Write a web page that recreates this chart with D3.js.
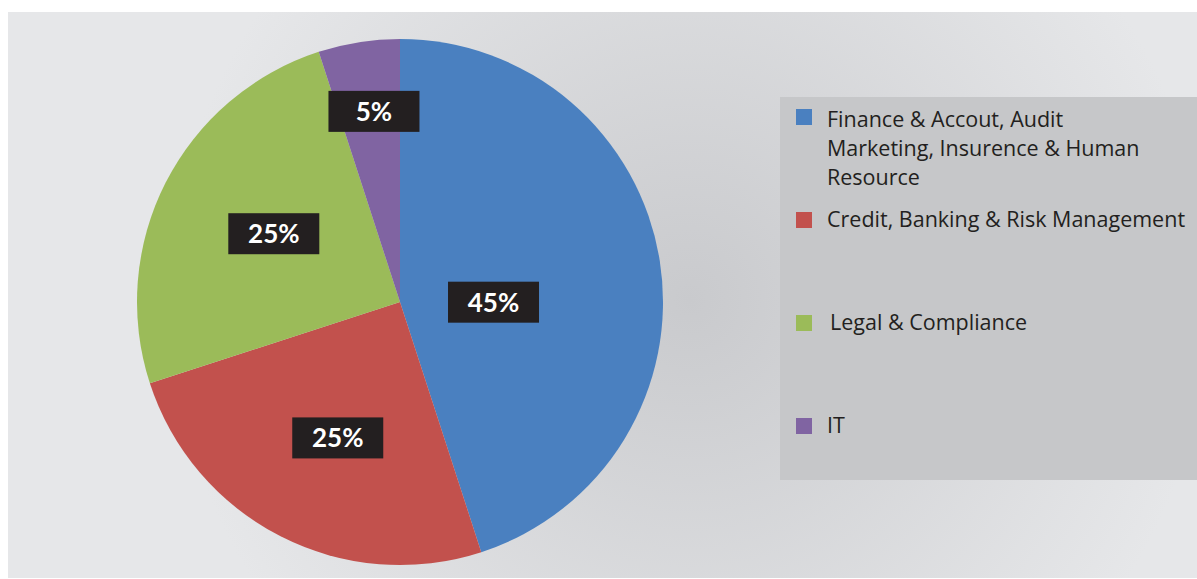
<!DOCTYPE html>
<html>
<head>
<meta charset="utf-8">
<title>Pie Chart</title>
<script src="https://cdnjs.cloudflare.com/ajax/libs/d3/7.8.5/d3.min.js"></script>
<style>
    html, body { margin: 0; padding: 0; background: #ffffff; }
    svg { display: block; }
</style>
</head>
<body>
<div id="chart"></div>
<script>
    // data
    const categories = [
        'Finance & Accout, Audit|Marketing, Insurence & Human|Resource',
        'Credit, Banking & Risk Management',
        'Legal & Compliance',
        'IT'
    ];
    const values = [45, 25, 25, 5];
    const labels = ['45%', '25%', '25%', '5%'];

    const colors = ['#4a80c0', '#c2514d', '#9bbb59', '#8064a2'];

    const width = 1197;
    const height = 579;
    const cx = 400;
    const cy = 302;
    const radius = 263;

    // label placement (fraction of radius from centre along slice middle, plus a nudge)
    const labelRadius = [0.36, 0.58, 0.53, 0.73];
    const labelNudge = [[0, 15], [7, 0], [-2, -5], [4, -1]];

    const svg = d3.select('#chart')
        .append('svg')
        .attr('width', width)
        .attr('height', height);

    const defs = svg.append('defs');
    const grad = defs.append('radialGradient')
        .attr('id', 'bg')
        .attr('gradientUnits', 'userSpaceOnUse')
        .attr('cx', 690)
        .attr('cy', 300)
        .attr('r', 520);
    grad.append('stop').attr('offset', '0%').attr('stop-color', '#c9cacd');
    grad.append('stop').attr('offset', '100%').attr('stop-color', '#e6e7e9');

    svg.append('rect')
        .attr('x', 8)
        .attr('y', 12)
        .attr('width', width - 8)
        .attr('height', 566)
        .attr('fill', 'url(#bg)');

    const pie = d3.pie().sort(null).value((d) => d);
    const arcs = pie(values);
    const arc = d3.arc().innerRadius(0).outerRadius(radius);

    const g = svg.append('g')
        .attr('transform', 'translate(' + cx + ',' + cy + ')');

    g.selectAll('path')
        .data(arcs)
        .enter()
        .append('path')
        .attr('d', arc)
        .attr('fill', (d, i) => colors[i]);

    const lab = g.selectAll('g.lab')
        .data(arcs)
        .enter()
        .append('g')
        .attr('class', 'lab')
        .attr('transform', (d, i) => {
            const r = radius * labelRadius[i];
            const c = d3.arc().innerRadius(r).outerRadius(r).centroid(d);
            return 'translate(' + (c[0] + labelNudge[i][0]) + ',' + (c[1] + labelNudge[i][1]) + ')';
        });

    lab.append('rect')
        .attr('x', -45.5)
        .attr('y', -20.5)
        .attr('width', 91)
        .attr('height', 41)
        .attr('fill', '#231f20');

    lab.append('text')
        .text((d, i) => labels[i])
        .attr('text-anchor', 'middle')
        .attr('dy', '0.36em')
        .attr('fill', '#ffffff')
        .attr('font-family', 'Lato, sans-serif')
        .attr('font-weight', 'bold')
        .attr('font-size', 26);

    // legend
    svg.append('rect')
        .attr('x', 780)
        .attr('y', 97)
        .attr('width', width - 780)
        .attr('height', 383)
        .attr('fill', '#c6c7c9');

    const rowY = d3.scalePoint()
        .domain(d3.range(categories.length))
        .range([117, 426]);

    const leg = svg.append('g')
        .selectAll('g')
        .data(categories)
        .enter()
        .append('g')
        .attr('transform', (d, i) => 'translate(796,' + rowY(i) + ')');

    leg.append('rect')
        .attr('x', 0)
        .attr('y', -8)
        .attr('width', 16)
        .attr('height', 16)
        .attr('fill', (d, i) => colors[i]);

    leg.append('text')
        .attr('x', 31)
        .attr('y', (d, i) => i === 0 ? 10 : 7)
        .attr('fill', '#231f20')
        .attr('font-family', '"Open Sans", sans-serif')
        .attr('font-size', 21.5)
        .selectAll('tspan')
        .data((d) => d.split('|'))
        .enter()
        .append('tspan')
        .attr('x', (d, i, n) => n[0].parentNode.__data__.startsWith('Legal') ? 34 : 31)
        .attr('dy', (d, i) => i === 0 ? 0 : 29)
        .text((d) => d);
</script>
</body>
</html>
